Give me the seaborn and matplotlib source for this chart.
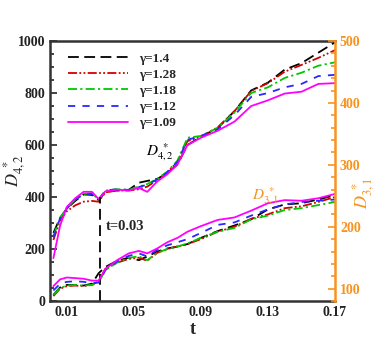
import numpy as np
import pandas as pd
import matplotlib
matplotlib.use("Agg")
import matplotlib.pyplot as plt
from matplotlib.ticker import MultipleLocator
import seaborn as sns

# time samples
t = [0.002, 0.006, 0.01, 0.015, 0.02, 0.025, 0.029, 0.033, 0.04, 0.047, 0.053, 0.058, 0.064,
     0.07, 0.076, 0.082, 0.09, 0.1, 0.11, 0.12, 0.13, 0.14, 0.15, 0.16, 0.17]

gammas = ["γ=1.4", "γ=1.28", "γ=1.18", "γ=1.12", "γ=1.09"]

# D*_{4,2} (left axis)
d42_14 = [262, 320, 355, 385, 410, 408, 388, 420, 425, 428, 455, 462, 470, 492, 525, 600, 632, 665, 730, 810, 840, 890, 915, 955, 995]
d42_128 = [235, 310, 345, 368, 382, 385, 382, 418, 425, 425, 430, 440, 465, 495, 535, 615, 632, 668, 730, 808, 838, 882, 908, 935, 965]
d42_118 = [250, 320, 357, 390, 412, 415, 390, 425, 430, 428, 440, 450, 470, 498, 540, 628, 635, 666, 725, 800, 822, 858, 878, 905, 918]
d42_112 = [245, 318, 355, 390, 410, 412, 390, 425, 430, 427, 438, 448, 468, 495, 535, 620, 635, 660, 715, 785, 800, 822, 835, 865, 870]
d42_109 = [165, 290, 362, 395, 420, 420, 392, 422, 428, 425, 435, 420, 460, 488, 525, 600, 628, 655, 690, 750, 772, 798, 805, 835, 838]

# D*_{3,1} (right axis)
d31_14 = [90, 102, 106, 106, 105, 108, 125, 135, 145, 150, 146, 152, 160, 165, 168, 172, 182, 193, 202, 212, 228, 236, 238, 244, 251]
d31_128 = [88, 100, 104, 105, 104, 106, 112, 132, 142, 148, 150, 145, 158, 164, 168, 172, 180, 192, 200, 213, 220, 230, 233, 240, 248]
d31_118 = [90, 101, 105, 106, 105, 106, 110, 130, 142, 150, 152, 146, 158, 164, 168, 173, 182, 192, 198, 212, 218, 227, 230, 235, 240]
d31_112 = [97, 108, 111, 112, 111, 109, 110, 130, 144, 153, 157, 152, 163, 170, 175, 180, 190, 203, 207, 218, 228, 236, 240, 242, 244]
d31_109 = [104, 115, 118, 117, 116, 113, 113, 132, 146, 157, 161, 157, 165, 175, 182, 192, 201, 211, 215, 226, 238, 243, 242, 246, 253]

d42 = [d42_14, d42_128, d42_118, d42_112, d42_109]
d31 = [d31_14, d31_128, d31_118, d31_112, d31_109]

rows = []
for g, a, b in zip(gammas, d42, d31):
    for ti, va, vb in zip(t, a, b):
        rows.append({"t": ti, "gamma": g, "D42": va, "D31": vb})
df = pd.DataFrame(rows)

palette = {"γ=1.4": "black", "γ=1.28": "#d40000", "γ=1.18": "#00c800",
           "γ=1.12": "#2828ff", "γ=1.09": "#ff00ff"}
dashes = {"γ=1.4": (6, 3), "γ=1.28": (5, 1.3, 1, 1.3, 1, 1.3), "γ=1.18": (5, 1.8, 1.2, 1.8),
          "γ=1.12": (4, 4), "γ=1.09": ""}
orange = "#f7931e"

sns.set_style("white")
plt.rcParams["font.family"] = ["Liberation Serif", "DejaVu Serif"]
plt.rcParams["mathtext.fontset"] = "stix"

fig, ax = plt.subplots(figsize=(3.82, 3.39), dpi=100)
fig.subplots_adjust(left=0.131, right=0.877, top=0.879, bottom=0.112)

sns.lineplot(data=df, x="t", y="D42", hue="gamma", style="gamma", palette=palette,
             dashes=dashes, hue_order=gammas, style_order=gammas, lw=1.3, ax=ax)
ax2 = ax.twinx()
sns.lineplot(data=df, x="t", y="D31", hue="gamma", style="gamma", palette=palette,
             dashes=dashes, hue_order=gammas, style_order=gammas, lw=1.3, ax=ax2, legend=False)

ax.set_xlim(0, 0.17)
ax.set_ylim(0, 1000)
ax2.set_ylim(80, 500)

# t=0.03 marker
ax.plot([0.03, 0.03], [0, 400], color="black", lw=1.3, dashes=(6, 3))
ax.text(0.0333, 288, "t=0.03", fontsize=10.5, fontweight="bold", va="center")

ax.text(0.0575, 560, r"$D_{4,2}^{\ *}$", fontsize=11, color="black")
ax2.text(0.1205, 244, r"$D_{3,1}^{\ *}$", fontsize=11, color=orange)

ax.set_xticks([0.01, 0.05, 0.09, 0.13, 0.17])
ax.xaxis.set_minor_locator(MultipleLocator(0.01))
ax.yaxis.set_major_locator(MultipleLocator(200))
ax.yaxis.set_minor_locator(MultipleLocator(50))
ax2.yaxis.set_major_locator(MultipleLocator(100))
ax2.yaxis.set_minor_locator(MultipleLocator(20))

ax.tick_params(which="both", direction="in", top=False, right=False, width=1.2, colors="#222222")
ax.tick_params(which="major", length=5, labelsize=10)
ax.tick_params(which="minor", length=3)
ax2.tick_params(which="both", direction="in", left=False, width=1.2, colors=orange, labelcolor=orange)
ax2.tick_params(which="major", length=5, labelsize=10)
ax2.tick_params(which="minor", length=3)
for lab in ax.get_xticklabels() + ax.get_yticklabels() + ax2.get_yticklabels():
    lab.set_fontweight("bold")

for s in ["left", "top", "bottom"]:
    ax.spines[s].set_color("#333333")
    ax.spines[s].set_linewidth(1.8)
ax.spines["right"].set_visible(False)
for s in ["left", "top", "bottom"]:
    ax2.spines[s].set_visible(False)
ax2.spines["right"].set_color(orange)
ax2.spines["right"].set_linewidth(1.8)

ax.set_xlabel("t", fontsize=13, fontweight="bold")
ax.xaxis.set_label_coords(0.5, -0.075)
ax.set_ylabel(r"$D_{4,2}^{\ *}$", fontsize=13)
ax.yaxis.set_label_coords(-0.078, 0.5)
ax2.set_ylabel(r"$D_{3,1}^{\ *}$", fontsize=13, color=orange, rotation=90)
ax2.yaxis.set_label_coords(1.055, 0.415)

leg = ax.legend(loc="upper left", bbox_to_anchor=(0.022, 1.002), frameon=False, handlelength=4.5,
                labelspacing=0.3, handletextpad=0.85, prop={"weight": "bold", "size": 9.5})

fig.savefig("out.png", dpi=100)
